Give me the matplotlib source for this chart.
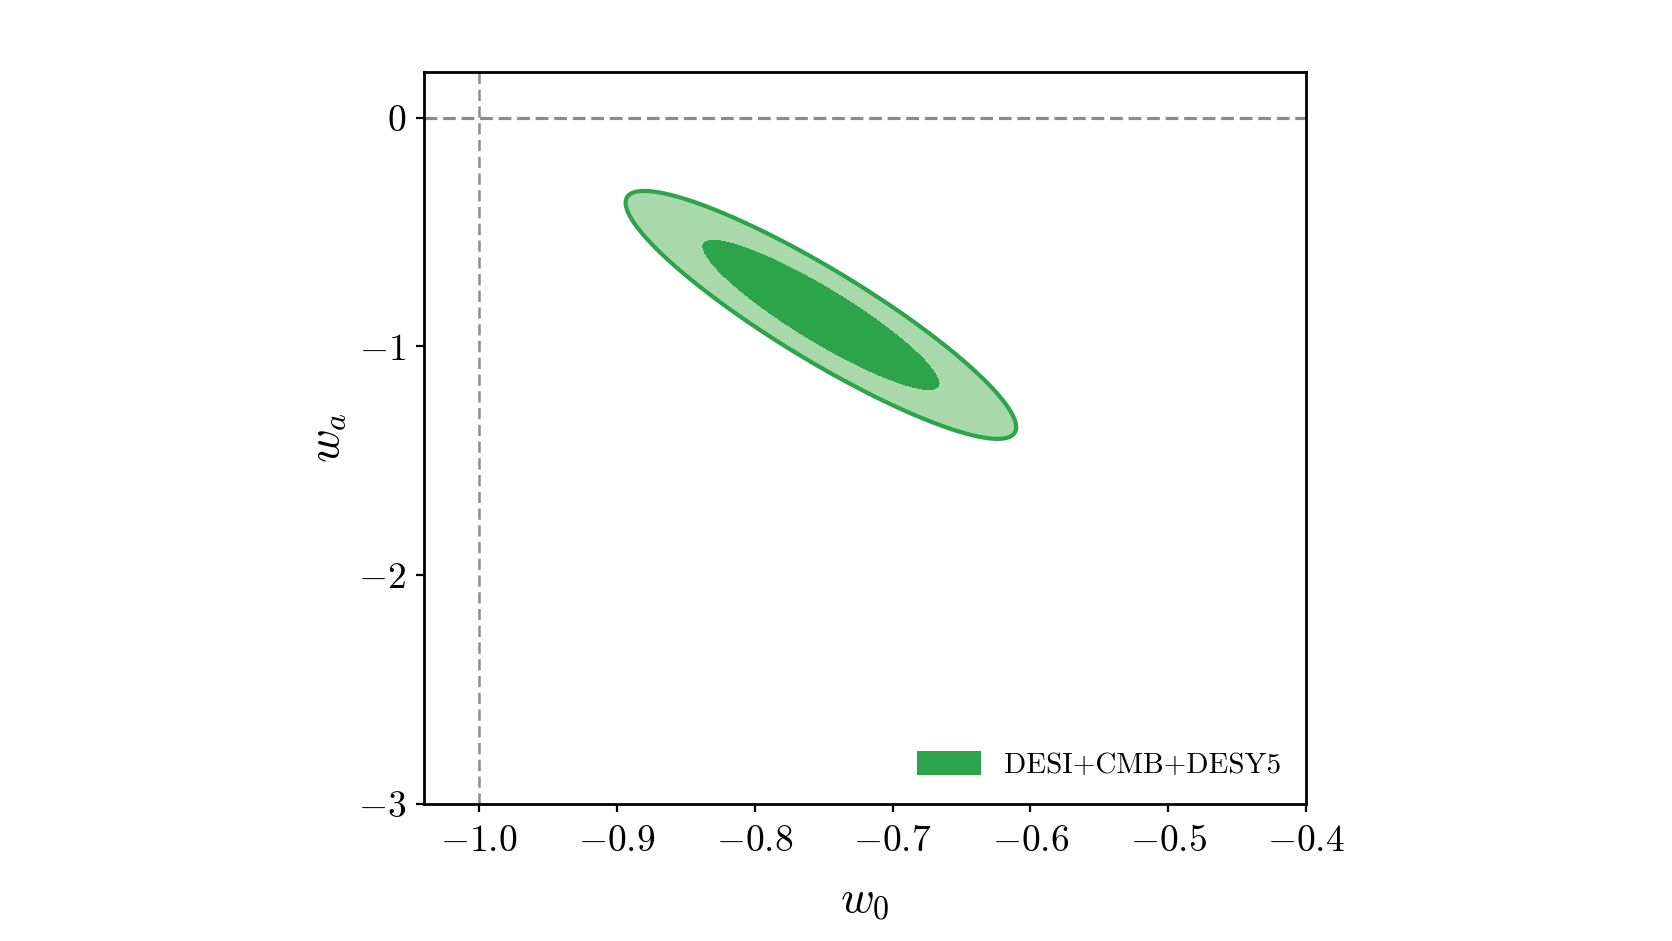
import numpy as np
import matplotlib
matplotlib.use("Agg")
import matplotlib.pyplot as plt
from matplotlib.patches import Patch

# Gaussian summary of the posterior
w0_mean = -0.752
wa_mean = -0.862
w0_sigma = 0.057
wa_sigma = 0.218
rho = -0.905

# 68% and 95% levels of a 2D Gaussian (delta chi^2)
levels = [0.0, 2.30, 6.18]

x_ticks = [-1.0, -0.9, -0.8, -0.7, -0.6, -0.5, -0.4]
y_ticks = [0, -1, -2, -3]
x_lim = (-1.04, -0.4)
y_lim = (-3.0, 0.2)
label = "DESI+CMB+DESY5"

dark = "#2ca44b"
light = "#a9d9aa"

plt.rcParams["mathtext.fontset"] = "cm"
plt.rcParams["font.family"] = ["cmr10", "DejaVu Serif"]
plt.rcParams["axes.formatter.use_mathtext"] = True


def main():
    fig = plt.figure(figsize=(16.72, 9.41), dpi=100)
    ax = fig.add_axes([0.2536, 0.1456, 0.5275, 0.7779])

    # chi^2 surface on a grid
    w0 = np.linspace(-1.05, -0.35, 600)
    wa = np.linspace(-3.1, 0.3, 600)
    X, Y = np.meshgrid(w0, wa)
    dx = (X - w0_mean) / w0_sigma
    dy = (Y - wa_mean) / wa_sigma
    chi2 = (dx**2 - 2 * rho * dx * dy + dy**2) / (1 - rho**2)

    ax.contourf(X, Y, chi2, levels=levels, colors=[dark, light])
    ax.contour(X, Y, chi2, levels=[levels[2]], colors=[dark], linewidths=3.0)

    ax.axhline(0, color="#8c8c8c", lw=2.3, ls=(0, (4.0, 1.8)), zorder=1)
    ax.axvline(-1.0, color="#8c8c8c", lw=1.8, ls=(0, (4.5, 2.2)), zorder=1)

    ax.set_xlim(*x_lim)
    ax.set_ylim(*y_lim)
    ax.set_xticks(x_ticks)
    ax.set_xticklabels([r"$%.1f$" % t for t in x_ticks])
    ax.set_yticks(y_ticks)
    ax.set_yticklabels([r"$%d$" % t for t in y_ticks])
    ax.tick_params(labelsize=27, length=6, width=1.6, pad=7)
    ax.tick_params(axis="x", pad=9)

    for sp in ax.spines.values():
        sp.set_linewidth(2.0)

    ax.set_xlabel(r"$w_0$", fontsize=33, labelpad=16)
    ax.set_ylabel(r"$w_a$", fontsize=33, labelpad=6)

    handle = Patch(facecolor=dark, edgecolor="none", label=label)
    ax.legend(handles=[handle], loc="lower right", frameon=False,
              fontsize=21, handlelength=2.2, handleheight=0.85,
              handletextpad=0.8, borderaxespad=0.45)

    fig.savefig("out.png", dpi=100)
    plt.close("all")


if __name__ == "__main__":
    main()
